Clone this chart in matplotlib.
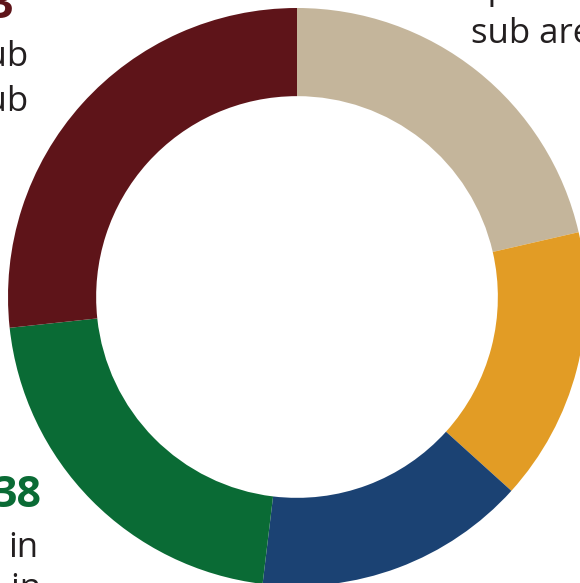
import matplotlib.pyplot as plt

# segment shares (clockwise from 12 o'clock)
labels = ['tan', 'orange', 'blue', 'green', 'maroon']
shares = [21.4, 15.3, 15.2, 21.4, 26.7]
colors = ['#C4B59B', '#E29C25', '#1B4273', '#0A6B35', '#5E1419']

W, H = 580, 583
text_color = '#231F20'

fig = plt.figure(figsize=(W / 100, H / 100), dpi=100)
ax = fig.add_axes([0, 0, 1, 1])

cx, cy, r = 297, H - 297, 289
ax.pie(shares, colors=colors, startangle=90, counterclock=False,
       center=(cx, cy), radius=r, frame=True,
       wedgeprops=dict(width=r * 0.305, linewidth=0))
ax.set_xlim(0, W)
ax.set_ylim(0, H)
ax.set_aspect('equal')
ax.axis('off')

font = 'Open Sans'


def txt(x, y, s, ha='left', color=text_color, size=25, weight='normal'):
    # y given in pixels from the top (baseline)
    ax.text(x, H - y, s, ha=ha, va='baseline', color=color,
            fontsize=size, fontweight=weight, family=font, clip_on=False)


# top-left fragments
txt(13, 18, '3', ha='right', color='#5E1419', size=31, weight='bold')
txt(28, 66, 'sub', ha='right')
txt(28, 111, 'sub', ha='right')

# top-right fragments
txt(471, -1, 'spread')
txt(471, 43, 'sub areas')

# bottom-left fragments
txt(41, 507, '38', ha='right', color='#0A6B35', size=31, weight='bold')
txt(38, 557, 'in', ha='right')
txt(41, 598, 'and in', ha='right')

fig.savefig('out.png', dpi=100)
